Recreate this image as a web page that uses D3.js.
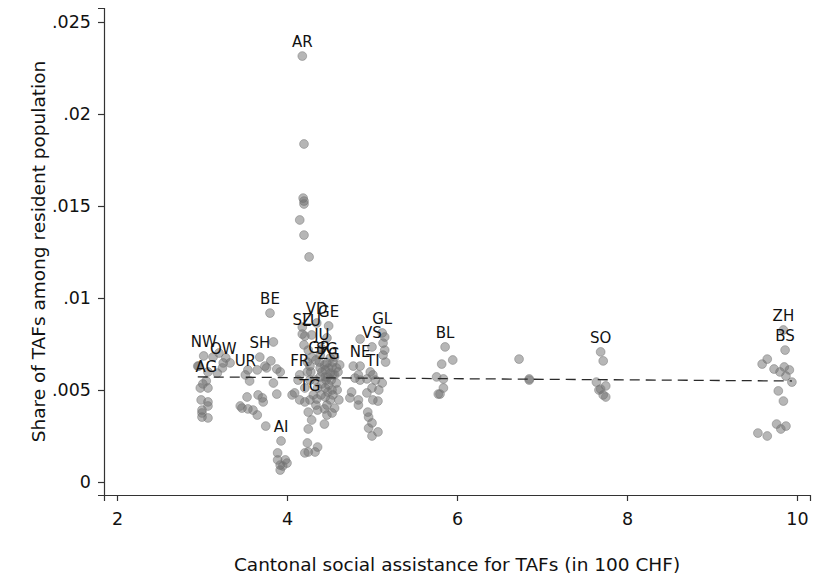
<!DOCTYPE html>
<html>
<head>
<meta charset="utf-8">
<script src="https://cdn.jsdelivr.net/npm/d3@7"></script>
<style>
  html, body { margin: 0; padding: 0; background: #fff; }
  svg { display: block; font-family: "DejaVu Sans", Verdana, sans-serif; }
</style>
</head>
<body>
<svg id="chart" width="813" height="577"></svg>
<script>
// Canton codes; the first observation of each canton carries its label.
const cantons = ["AR","BE","VD","GE","SZ","LU","JU","GR","SG","ZG","NW","AG","OW",
                 "UR","SH","FR","TG","AI","NE","TI","VS","GL","BL","SO","ZH","BS"];

// Cantonal social assistance for TAFs (in 100 CHF), one list per canton
const assistance = [
  [4.18,4.20,4.19,4.20,4.20,4.15,4.20,4.26],
  [3.80,3.84,3.88,3.84,3.88,3.75,3.71,3.92],
  [4.35,4.39,4.39,4.35,4.41,4.36,4.40,4.34],
  [4.49,4.47,4.54,4.53,4.51,4.53,4.53,4.56],
  [4.18,4.18,4.21,4.25,4.24,4.24,4.20,4.27],
  [4.29,4.29,4.27,4.33,4.36,4.31,4.34,4.28],
  [4.41,4.45,4.45,4.45,4.45,4.47,4.47,4.44],
  [4.38,4.41,4.48,4.56,4.51,4.58,4.39,4.54],
  [4.47,4.51,4.58,4.44,4.52,4.48,4.56,4.60],
  [4.49,4.54,4.49,4.59,4.61,4.62,4.46,4.44],
  [3.02,2.95,3.07,2.98,3.07,3.00,3.00,3.13],
  [3.05,3.01,3.07,2.99,3.07,3.00,3.07,2.96],
  [3.25,3.20,3.33,3.18,3.28,3.24],
  [3.51,3.54,3.56,3.53,3.47,3.54,3.60,3.45],
  [3.68,3.74,3.65,3.66,3.72,3.65,3.76,3.81],
  [4.15,4.09,4.15,4.21,4.25,4.06,4.21,4.13],
  [4.27,4.25,4.24,4.25,4.21,4.33,4.29,4.36],
  [3.93,3.89,3.89,3.98,3.92,4.00,3.92,3.95],
  [4.86,4.78,4.84,4.80,4.74,4.84,4.84,4.76],
  [5.01,4.98,4.86,4.95,4.96,5.00,4.96,5.07,5.00],
  [5.00,4.86,4.94,5.04,5.00,4.94,5.01,5.07],
  [5.12,5.15,5.13,5.15,5.13,5.12,5.16,5.08],
  [5.86,5.82,5.95,5.76,5.84,5.84,5.78,5.80,6.73,6.85,6.85],
  [7.69,7.72,7.64,7.75,7.69,7.72,7.75,7.67],
  [9.84,9.65,9.59,9.73,9.80,9.78,9.76,9.87],
  [9.86,9.85,9.91,9.87,9.94,9.84,9.81,9.54,9.65]
];

// Share of TAFs among the resident population, matching the lists above
const tafShare = [
  [.02315,.01837,.01543,.01527,.01511,.01424,.01342,.01223],
  [.00918,.00761,.00614,.00538,.00478,.00304,.00457,.00598],
  [.00864,.00620,.00571,.00451,.00533,.00391,.00473,.00663],
  [.00848,.00783,.00652,.00625,.00592,.00500,.00375,.00402],
  [.00804,.00842,.00793,.00717,.00652,.00598,.00745,.00554],
  [.00799,.00679,.00630,.00554,.00511,.00473,.00418,.00598],
  [.00723,.00609,.00571,.00511,.00462,.00418,.00364,.00315],
  [.00652,.00598,.00571,.00582,.00446,.00538,.00690,.00473],
  [.00647,.00674,.00620,.00636,.00554,.00489,.00679,.00598],
  [.00620,.00582,.00527,.00500,.00446,.00636,.00554,.00397],
  [.00685,.00630,.00598,.00511,.00435,.00391,.00353,.00679],
  [.00549,.00533,.00511,.00446,.00413,.00375,.00348,.00630],
  [.00647,.00701,.00647,.00592,.00674,.00620],
  [.00582,.00609,.00549,.00462,.00402,.00397,.00391,.00413],
  [.00679,.00630,.00609,.00473,.00435,.00364,.00620,.00658],
  [.00582,.00484,.00446,.00435,.00380,.00473,.00511,.00554],
  [.00446,.00288,.00212,.00163,.00158,.00163,.00337,.00190],
  [.00223,.00158,.00120,.00120,.00092,.00103,.00065,.00087],
  [.00630,.00630,.00582,.00565,.00457,.00446,.00418,.00489],
  [.00582,.00598,.00554,.00380,.00353,.00321,.00293,.00272,.00250],
  [.00734,.00777,.00560,.00554,.00511,.00484,.00446,.00440],
  [.00810,.00788,.00755,.00717,.00690,.00538,.00652,.00500],
  [.00734,.00641,.00663,.00571,.00560,.00511,.00478,.00478,.00668,.00560,.00554],
  [.00707,.00658,.00543,.00522,.00505,.00473,.00462,.00500],
  [.00826,.00668,.00641,.00614,.00598,.00495,.00315,.00304],
  [.00717,.00625,.00609,.00576,.00543,.00440,.00288,.00266,.00250]
];

// Linear fit across all cantons (end points)
const fitX = [2.95, 9.94];
const fitY = [.00571, .00549];

const xTicks = [2, 4, 6, 8, 10];
const yTicks = [0, .005, .01, .015, .02, .025];
const yTickLabels = ["0", ".005", ".01", ".015", ".02", ".025"];

const xTitle = "Cantonal social assistance for TAFs (in 100 CHF)";
const yTitle = "Share of TAFs among resident population";

// ---- layout ----
const svg = d3.select("#chart");
const plot = { left: 104, right: 810, top: 8, bottom: 495 };

// 85 px per 100 CHF, ticks 2..10 inside the plot frame
const x = d3.scaleLinear()
  .domain([2 - 13 / 85, 10 + 13 / 85])
  .range([plot.left, plot.right]);
const y = d3.scaleLinear()
  .domain([-13 * 0.025 / 460, 474 * 0.025 / 460])
  .range([plot.bottom, plot.top]);

// axes
const xAxis = svg.append("g")
  .attr("transform", `translate(0,${plot.bottom})`)
  .call(d3.axisBottom(x).tickValues(xTicks).tickSizeOuter(0).tickSize(6).tickPadding(12)
        .tickFormat(d3.format("d")));
const yAxis = svg.append("g")
  .attr("transform", `translate(${plot.left},0)`)
  .call(d3.axisLeft(y).tickValues(yTicks).tickSizeOuter(0).tickSize(6).tickPadding(7)
        .tickFormat((d, i) => yTickLabels[i]));

[xAxis, yAxis].forEach(g => {
  g.select(".domain").attr("stroke", "#333").attr("stroke-width", 1.2);
  g.selectAll(".tick line").attr("stroke", "#333").attr("stroke-width", 1.2);
  g.selectAll(".tick text").attr("fill", "#111").style("font-size", "17.5px")
    .style("font-family", '"DejaVu Sans", Verdana, sans-serif');
});

// axis titles
svg.append("text")
  .attr("x", (plot.left + plot.right) / 2)
  .attr("y", 571)
  .attr("text-anchor", "middle")
  .attr("fill", "#111")
  .style("font-size", "18.5px")
  .text(xTitle);

svg.append("text")
  .attr("transform", `translate(45,${(plot.top + plot.bottom) / 2}) rotate(-90)`)
  .attr("text-anchor", "middle")
  .attr("fill", "#111")
  .style("font-size", "18.5px")
  .text(yTitle);

// observations
const points = [];
cantons.forEach((c, i) => {
  assistance[i].forEach((v, j) => points.push({ canton: c, x: v, y: tafShare[i][j] }));
});

svg.append("g")
  .selectAll("circle")
  .data(points)
  .join("circle")
  .attr("cx", d => x(d.x))
  .attr("cy", d => y(d.y))
  .attr("r", 4.4)
  .attr("fill", "#6e6e6e")
  .attr("fill-opacity", 0.5)
  .attr("stroke", "#7a7a7a")
  .attr("stroke-opacity", 0.5)
  .attr("stroke-width", 1);

// fitted line
svg.append("path")
  .datum(fitX.map((v, i) => [v, fitY[i]]))
  .attr("d", d3.line().x(d => x(d[0])).y(d => y(d[1])))
  .attr("fill", "none")
  .attr("stroke", "#2a2a2a")
  .attr("stroke-width", 1.3)
  .attr("stroke-dasharray", "10,6");

// canton labels above the labelled observation
svg.append("g")
  .selectAll("text")
  .data(cantons.map((c, i) => ({ canton: c, x: assistance[i][0], y: tafShare[i][0] })))
  .join("text")
  .attr("x", d => x(d.x))
  .attr("y", d => y(d.y) - 9)
  .attr("text-anchor", "middle")
  .attr("fill", "#111")
  .style("font-size", "15px")
  .text(d => d.canton);
</script>
</body>
</html>
